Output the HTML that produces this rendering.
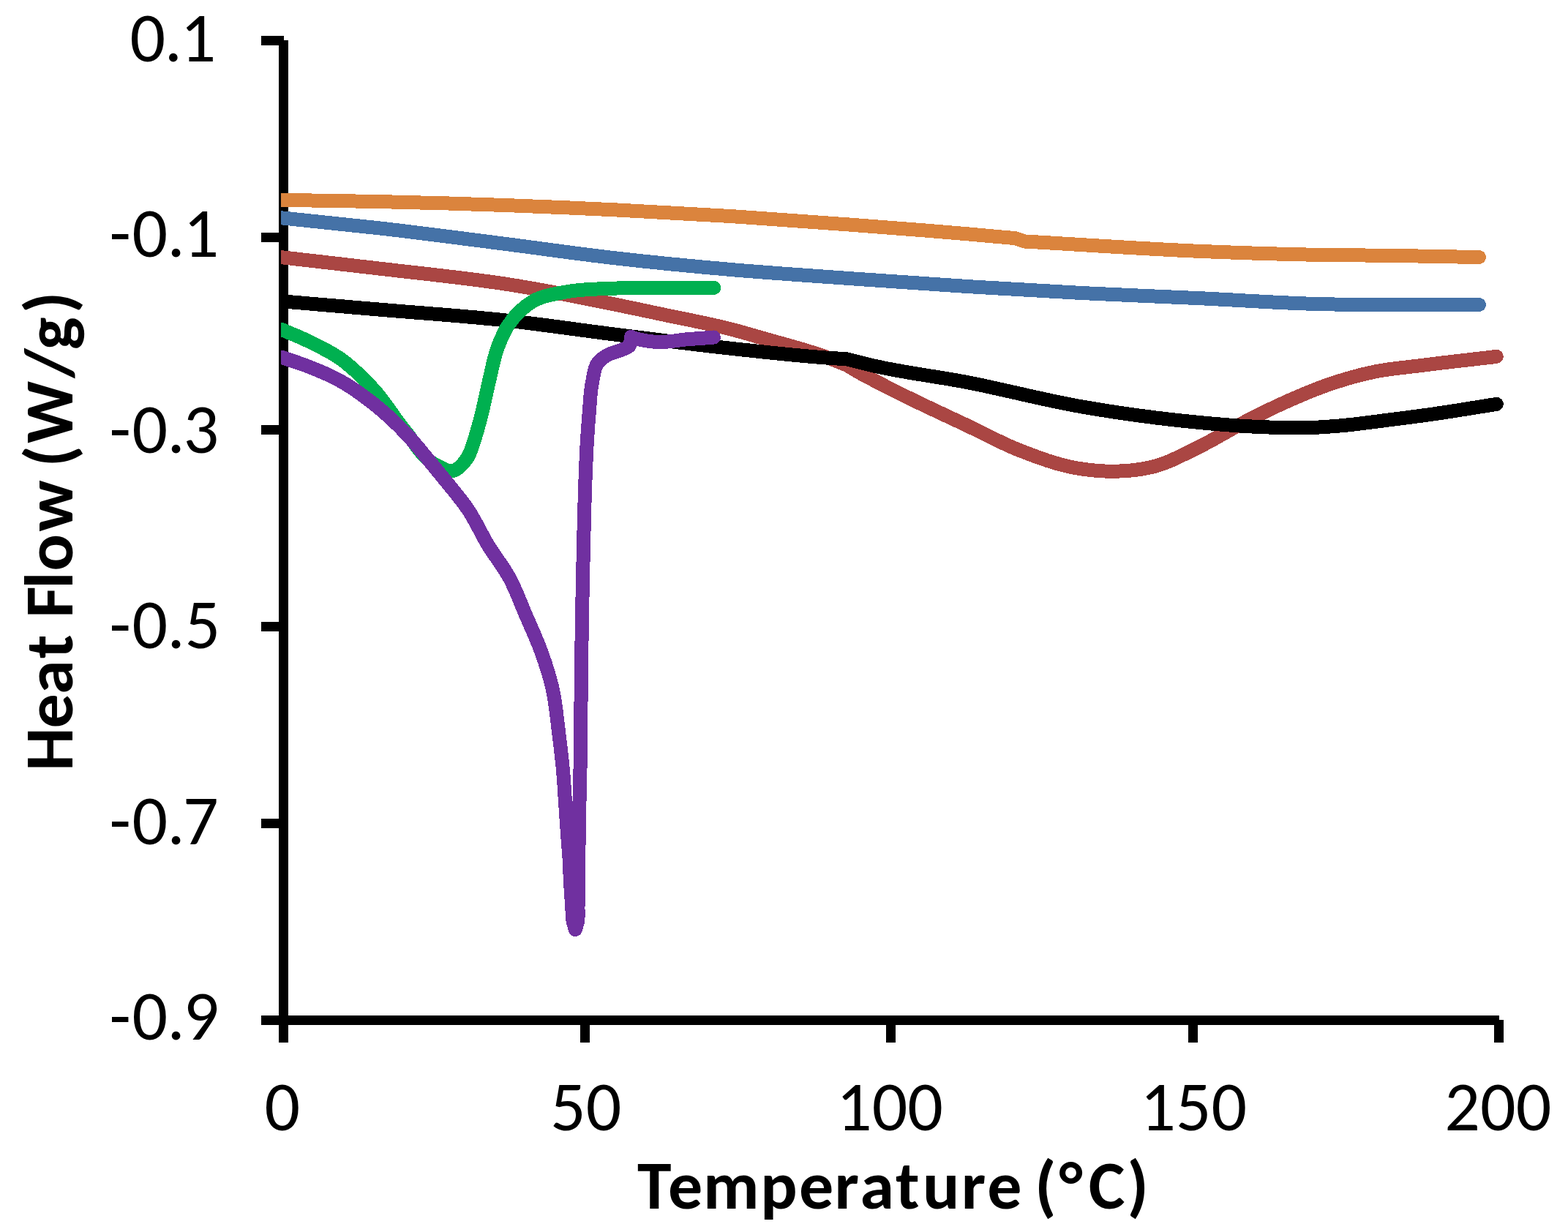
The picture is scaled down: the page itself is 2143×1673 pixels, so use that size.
<!DOCTYPE html>
<html><head><meta charset="utf-8"><title>Heat Flow vs Temperature</title>
<style>html,body{margin:0;padding:0;background:#fff;}svg{display:block;}</style>
</head><body>
<svg width="2143" height="1673" viewBox="0 0 2143 1673">
<defs><clipPath id="pa"><rect x="384" y="0" width="1759" height="1673"/></clipPath></defs>
<rect width="2143" height="1673" fill="#fff"/>
<g fill="#000">
<rect x="381" y="55" width="13" height="1370"/>
<rect x="357" y="1388" width="1692" height="13"/>
<rect x="357" y="49.0" width="31" height="13"/>
<rect x="357" y="318.0" width="31" height="13"/>
<rect x="357" y="581.0" width="31" height="13"/>
<rect x="357" y="850.0" width="31" height="13"/>
<rect x="357" y="1119.0" width="31" height="13"/>
<rect x="357" y="1388.0" width="31" height="13"/>
<rect x="381.0" y="1394" width="13" height="31"/>
<rect x="793.0" y="1394" width="13" height="31"/>
<rect x="1211.0" y="1394" width="13" height="31"/>
<rect x="1624.0" y="1394" width="13" height="31"/>
<rect x="2042.0" y="1394" width="13" height="31"/>
</g>
<g clip-path="url(#pa)" shape-rendering="crispEdges" fill="none" stroke-width="19" stroke-linecap="round" stroke-linejoin="round">
<path stroke="#DB843D" d="M384.0 273.4 C429.2 274.1 474.3 274.6 519.5 275.6 C576.3 276.8 633.2 278.5 690.0 280.5 C739.8 282.3 789.7 284.4 839.5 286.8 C893.0 289.4 946.5 292.2 1000.0 295.6 C1053.4 299.0 1106.7 303.0 1160.0 307.0 C1213.3 311.0 1266.7 315.0 1320.0 319.6 C1342.7 321.6 1365.3 323.7 1388.0 325.7 C1392.2 327.1 1396.5 328.6 1400.7 330.0 C1480.5 334.5 1560.2 340.1 1640.0 343.4 C1693.3 345.6 1746.7 347.3 1800.0 348.3 C1840.0 349.1 1880.0 348.8 1920.0 349.6 C1933.3 349.9 1946.7 350.2 1960.0 350.5 C1980.5 350.9 2001.0 351.2 2021.5 351.5"/>
<path stroke="#4572A7" d="M384.0 297.7 C429.2 302.5 474.4 306.9 519.5 312.0 C576.4 318.5 633.2 326.1 690.0 333.3 C739.8 339.7 789.6 347.0 839.5 352.7 C892.9 358.8 946.4 364.0 1000.0 368.6 C1053.3 373.2 1106.7 376.7 1160.0 380.5 C1213.3 384.3 1266.6 388.0 1320.0 391.4 C1373.3 394.7 1426.6 397.9 1480.0 400.6 C1533.3 403.3 1586.7 405.2 1640.0 407.7 C1693.3 410.2 1746.6 414.1 1800.0 415.5 C1821.3 416.1 1842.7 416.3 1864.0 416.6 C1882.7 416.8 1901.3 416.9 1920.0 417.0 C1953.8 417.1 1987.7 416.7 2021.5 416.5"/>
<path stroke="#AA4643" d="M384.0 351.6 C429.2 356.8 474.3 361.9 519.5 367.2 C576.4 373.9 633.4 379.4 690.0 388.0 C765.2 399.5 839.7 415.9 914.2 431.6 C942.8 437.6 971.7 442.8 1000.0 450.2 C1013.4 453.7 1026.7 457.7 1040.0 461.5 C1070.1 470.2 1100.6 477.6 1130.0 488.4 C1139.1 491.7 1148.0 495.4 1157.0 498.9 C1162.0 501.9 1167.0 504.9 1172.0 507.8 C1179.3 512.0 1186.8 515.9 1194.3 519.8 C1209.1 527.6 1224.2 535.1 1239.2 542.5 C1265.9 555.7 1293.1 568.1 1320.0 580.8 C1344.9 592.6 1369.1 606.1 1394.7 616.0 C1419.0 625.4 1443.9 634.9 1469.5 639.5 C1484.2 642.1 1499.4 643.9 1514.3 644.2 C1534.2 644.6 1554.9 643.0 1574.1 638.4 C1597.1 632.9 1618.5 620.7 1640.0 610.2 C1660.4 600.3 1679.6 587.9 1699.8 577.5 C1719.5 567.3 1739.3 557.4 1759.6 548.4 C1779.2 539.7 1799.1 531.2 1819.4 524.4 C1839.0 517.8 1859.0 512.1 1879.2 508.0 C1899.2 503.9 1919.7 502.4 1940.0 499.8 C1975.1 495.3 2010.2 491.5 2045.3 487.4"/>
<path stroke="#000000" d="M384.0 411.7 C429.2 415.5 474.3 419.4 519.5 423.2 C576.3 428.0 633.3 431.7 690.0 437.8 C739.9 443.2 789.6 450.8 839.5 457.0 C893.0 463.7 946.4 470.6 1000.0 476.4 C1044.8 481.2 1089.6 486.4 1134.5 489.4 C1142.0 489.9 1149.5 490.3 1157.0 490.8 C1169.4 493.9 1181.8 497.1 1194.3 500.0 C1235.7 509.5 1278.2 514.2 1320.0 522.2 C1373.5 532.5 1426.3 546.9 1480.0 556.2 C1533.0 565.3 1586.4 572.6 1640.0 577.6 C1662.8 579.7 1685.7 581.7 1708.6 582.9 C1738.0 584.4 1767.4 585.6 1796.8 584.3 C1809.9 583.7 1823.0 582.7 1836.0 581.5 C1855.7 579.7 1875.2 576.9 1894.8 574.4 C1914.4 571.9 1934.0 569.5 1953.6 566.7 C1984.2 562.4 2014.7 557.2 2045.3 552.4"/>
<path stroke="#00B050" d="M384.0 450.0 C395.9 455.2 408.1 459.9 419.8 465.5 C435.2 472.9 450.8 480.3 464.7 490.0 C481.2 501.5 495.8 516.2 509.5 531.0 C526.3 549.0 538.6 571.0 554.4 590.0 C567.1 605.3 577.0 625.3 594.0 634.5 C601.7 638.7 611.9 645.2 619.5 643.5 C626.4 641.9 633.3 633.5 638.0 627.0 C643.1 619.9 645.1 610.6 648.0 602.2 C651.1 593.3 653.5 584.1 656.0 575.0 C661.0 556.7 664.3 537.9 668.8 519.5 C672.5 504.5 674.8 489.0 680.3 474.6 C684.2 464.3 688.5 453.7 694.5 444.7 C703.4 431.4 715.9 418.7 729.7 411.0 C742.8 403.7 759.3 401.6 774.5 398.8 C794.1 395.2 814.3 395.2 834.3 394.3 C859.2 393.2 884.1 394.0 909.0 393.8 C926.0 393.6 943.0 393.1 960.0 393.2 C965.3 393.2 970.5 393.3 975.8 393.4"/>
<path stroke="#7030A0" d="M384.0 488.0 C395.9 492.1 408.0 495.7 419.8 500.3 C435.1 506.2 450.4 512.5 464.7 520.4 C480.5 529.1 495.3 539.9 509.5 551.0 C525.0 563.2 539.7 576.8 553.4 591.0 C566.2 604.3 577.6 619.0 589.4 633.2 C594.8 639.7 600.1 646.2 605.4 652.7 C617.2 667.3 629.6 681.5 640.0 697.0 C650.3 712.4 657.7 729.7 667.4 745.6 C676.6 760.7 688.0 774.5 696.4 790.0 C705.1 806.0 711.2 823.4 718.4 840.2 C725.6 856.9 733.4 873.3 739.6 890.4 C745.6 906.9 751.1 923.7 755.0 940.7 C759.4 960.1 761.0 980.2 763.5 1000.0 C765.7 1017.3 767.8 1034.6 769.4 1052.0 C770.9 1068.1 771.7 1084.3 772.8 1100.5 C773.7 1113.2 774.5 1126.0 775.4 1138.7 C776.2 1150.1 777.3 1161.6 778.0 1173.0 C778.7 1184.7 779.0 1196.3 779.7 1208.0 C780.3 1218.7 781.0 1229.3 781.8 1240.0 C782.2 1246.3 782.0 1252.8 783.2 1259.0 C783.9 1262.9 785.3 1266.7 786.3 1270.5 L786.3 1270.5 C787.4 1266.7 788.9 1262.9 789.6 1259.0 C790.7 1252.8 789.9 1246.3 790.0 1240.0 C790.2 1229.3 790.1 1218.7 790.2 1208.0 C790.4 1190.7 790.7 1173.3 791.0 1156.0 C791.3 1137.5 791.5 1119.0 791.9 1100.5 C792.2 1084.3 792.7 1068.2 793.0 1052.0 C793.3 1034.7 793.4 1017.3 793.6 1000.0 C794.0 963.3 794.3 926.7 794.8 890.0 C795.3 856.7 795.8 823.3 796.5 790.0 C797.1 759.0 797.7 728.0 798.7 697.0 C799.7 664.7 800.5 632.3 802.6 600.0 C803.4 588.0 804.1 576.0 805.2 564.0 C806.5 549.1 806.8 534.0 810.0 519.5 C811.7 511.9 812.1 503.1 816.4 497.0 C819.4 492.7 824.1 489.0 828.7 486.2 C833.0 483.6 838.2 482.2 843.0 480.4 C846.2 479.2 849.5 478.4 852.6 477.0 C855.1 475.8 858.3 474.9 860.0 473.0 C862.6 470.1 861.7 464.7 862.5 460.5 L862.5 460.5 C865.0 461.3 867.5 462.3 870.0 463.0 C873.7 464.1 877.5 464.8 881.3 465.5 C887.5 466.6 893.8 467.3 900.0 467.6 C913.0 468.2 926.0 464.8 939.0 463.8 C946.0 463.2 953.0 462.8 960.0 462.3 C965.2 461.9 970.3 461.4 975.5 461.0"/>
</g>
<g font-family="Carlito, 'Liberation Sans', sans-serif" font-size="96" fill="#000">
<text x="177.4 224.7 246.6" y="84.00">0.1</text>
<text x="149.5 180.5 228.6 250.6" y="351.00">-0.1</text>
<text x="149.5 180.5 228.6 250.4" y="619.25">-0.3</text>
<text x="149.5 180.5 228.6 252.5" y="886.25">-0.5</text>
<text x="149.5 180.5 228.6 250.1" y="1154.25">-0.7</text>
<text x="149.5 180.5 228.6 250.8" y="1421.25">-0.9</text>
</g>
<g font-family="Carlito, 'Liberation Sans', sans-serif" font-size="96" fill="#000" text-anchor="middle">
<text x="385.9" y="1545.15">0</text>
<text x="800.7" y="1545.15">50</text>
<text x="1216.0" y="1545.15">100</text>
<text x="1631.2" y="1545.15">150</text>
<text x="2047.3" y="1545.15">200</text>
</g>
<text x="871.0 913.0 961.1 1039.2 1091.9 1140.6 1175.4 1223.9 1261.1 1313.8 1349.3 1396.6 1414.2 1447.4 1487.7 1540.4" y="1651.9" font-family="Carlito, 'Liberation Sans', sans-serif" font-size="94" font-weight="bold">Temperature (°C)</text>
<text transform="rotate(-90)" x="-1053.8 -995.5 -948.7 -899.9 -867.3 -844.4 -804.7 -780.5 -726.4 -656.4 -638.3 -606.1 -516.7 -477.9 -427.9" y="98.9" font-family="Carlito, 'Liberation Sans', sans-serif" font-size="94" font-weight="bold">Heat Flow (W/g)</text>
</svg>
</body></html>
